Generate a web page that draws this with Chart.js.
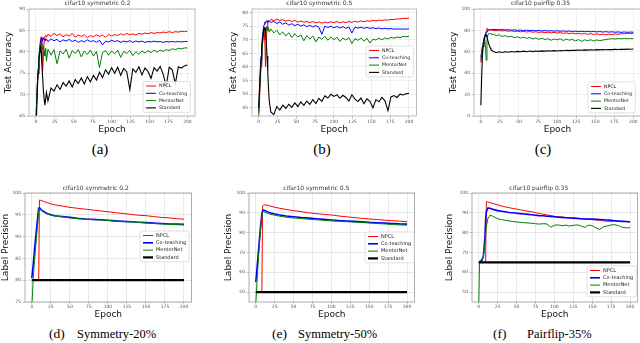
<!DOCTYPE html>
<html>
<head>
<meta charset="utf-8">
<title>cifar10 - test accuracy / label precision</title>
<script src="https://cdn.jsdelivr.net/npm/chart.js"></script>
<style>
  html, body { margin: 0; padding: 0; background: #fff; }
  body { width: 640px; height: 343px; position: relative; overflow: hidden; }
  canvas { position: absolute; }
  .cap { position: absolute; font-family: "Liberation Serif", "Times New Roman", serif; color: #000; white-space: nowrap; line-height: 1; transform: translateY(-50%); }
</style>
</head>
<body>
<canvas id="chart-a" width="200" height="137" style="left:0;top:0"></canvas>
<canvas id="chart-b" width="200" height="137" style="left:222px;top:0"></canvas>
<canvas id="chart-c" width="202" height="137" style="left:440px;top:0"></canvas>
<canvas id="chart-d" width="200" height="140" style="left:0;top:180px"></canvas>
<canvas id="chart-e" width="200" height="140" style="left:218px;top:180px"></canvas>
<canvas id="chart-f" width="200" height="140" style="left:440px;top:180px"></canvas>

<div class="cap" style="left:100px;top:149px;font-size:15px;transform:translate(-50%,-50%)">(a)</div>
<div class="cap" style="left:322px;top:149px;font-size:15px;transform:translate(-50%,-50%)">(b)</div>
<div class="cap" style="left:543px;top:149px;font-size:15px;transform:translate(-50%,-50%)">(c)</div>
<div class="cap" style="left:49px;top:334px;font-size:13.5px">(d)</div>
<div class="cap" style="left:77px;top:334px;font-size:12.5px">Symmetry-20%</div>
<div class="cap" style="left:272px;top:334px;font-size:13.5px">(e)</div>
<div class="cap" style="left:298px;top:334px;font-size:12.5px">Symmetry-50%</div>
<div class="cap" style="left:493px;top:334px;font-size:13.5px">(f)</div>
<div class="cap" style="left:527px;top:334px;font-size:12.5px">Pairflip-35%</div>

<script>
// ---- values ----
const SERIES_NAMES = ['NPCL', 'Co-teaching', 'MentorNet', 'Standard'];
const SERIES_COLORS = ['#ff0000', '#0000ff', '#008000', '#000000'];

const X_TICKS = [0, 25, 50, 75, 100, 125, 150, 175, 200];
const Y_TICKS_A = [65, 70, 75, 80, 85, 90];
const Y_TICKS_B = [45, 50, 55, 60, 65, 70, 75, 80];
const Y_TICKS_C = [0, 20, 40, 60, 80, 100];
const Y_TICKS_D = [75, 80, 85, 90, 95, 100];
const Y_TICKS_E = [50, 60, 70, 80, 90, 100];
const Y_TICKS_F = [50, 60, 70, 80, 90, 100];

// top row (test accuracy)
const EPOCHS_TOP = [0, 1, 2, 3, 4, 5, 6, 7, 8, 9, 10, 11, 12, 13, 14,
  16, 20, 24, 28, 32, 36, 40, 44, 48, 52, 56, 60, 64, 68, 72, 76, 80, 84, 88, 92, 96, 100,
  104, 108, 112, 116, 120, 124, 128, 132, 136, 140, 144, 148, 152, 156, 160, 164, 168, 172,
  176, 180, 184, 188, 192, 196, 200];

const A_NPCL = [62, 68, 72, 75, 78, 80.5, 82.5, 83.5, 80, 75.5, 79, 82.5, 83.6, 83.9, 83.4,
  84.1, 83.6, 84.3, 83.8, 84.2, 83.5, 84.0, 83.7, 84.3, 83.4, 83.9, 83.6, 84.0, 83.3, 83.8, 83.5,
  84.0, 83.6, 83.9, 83.4, 84.1, 83.7, 84.0, 83.8, 84.2, 83.9, 84.3, 84.0, 84.2, 83.9, 84.3, 84.1,
  84.4, 84.2, 84.5, 84.3, 84.5, 84.4, 84.6, 84.5, 84.7, 84.5, 84.7, 84.6, 84.8, 84.7, 84.8];
const A_COTEACHING = [62, 68, 72.5, 76, 78.5, 80.5, 82, 83, 83.2, 82.5, 83.3, 82.8, 83.1, 82.6, 83.0,
  82.4, 83.0, 82.6, 82.9, 82.3, 82.8, 82.5, 82.9, 82.4, 82.7, 82.2, 82.6, 82.3, 82.8, 82.4, 82.6,
  82.2, 82.7, 81.6, 82.5, 82.3, 82.7, 82.4, 82.6, 82.2, 82.5, 82.3, 82.6, 82.2, 82.5, 82.3, 82.5,
  82.2, 82.4, 82.3, 82.5, 82.3, 82.4, 82.2, 82.4, 82.3, 82.4, 82.3, 82.4, 82.3, 82.4, 82.4];
const A_MENTORNET = [60, 68, 72.5, 76, 78.5, 80.5, 81.5, 82, 81.5, 80.5, 81.3, 80.2, 79, 80.8, 77.8,
  80.6, 79.2, 80.5, 77.2, 80.2, 79.5, 80.6, 78.5, 80.3, 79.6, 80.5, 78.8, 80.2, 79.4, 80.4, 79.0,
  80.1, 76.3, 79.8, 80.3, 79.2, 80.2, 79.5, 80.4, 78.7, 80.1, 79.6, 80.3, 79.1, 80.0, 79.4, 80.2,
  79.7, 80.3, 79.8, 80.4, 79.9, 80.4, 80.1, 80.5, 80.3, 80.7, 80.5, 80.8, 80.7, 80.9, 80.9];
const A_STANDARD = [60, 65.5, 71, 75, 78, 79.5, 81, 80, 77, 74, 71, 69, 67.5, 69, 70.5,
  68.5, 71.5, 70.8, 72.3, 71.2, 72.8, 72.0, 73.2, 71.8, 73.5, 72.6, 73.9, 72.5, 74.2, 73.0, 74.5,
  73.4, 75.2, 74.0, 75.8, 74.8, 76.3, 75.0, 76.4, 74.5, 76.1, 75.3, 71.2, 76.0, 75.2, 76.5, 74.6,
  76.2, 75.4, 73.8, 76.3, 75.5, 76.6, 74.8, 72.0, 76.4, 75.8, 72.5, 76.5, 76.2, 76.7, 76.9];

const B_NPCL = [42, 48, 54, 60, 65, 69, 72, 74.5, 70, 60, 70, 75, 76.5, 77, 76.6,
  77.5, 77.0, 77.6, 77.1, 77.4, 76.8, 77.2, 76.7, 77.1, 76.5, 76.9, 76.4, 76.8, 76.3, 76.7, 76.2,
  76.6, 76.1, 76.5, 76.2, 76.6, 76.3, 76.7, 76.2, 76.6, 76.3, 76.7, 76.4, 76.8, 76.5, 76.9, 76.6,
  77.0, 76.8, 77.1, 76.9, 77.2, 77.1, 77.3, 77.2, 77.5, 77.4, 77.7, 77.6, 77.9, 77.8, 78.0];
const B_COTEACHING = [44, 52, 58, 64, 68, 71.5, 74, 75.5, 76.5, 76, 77, 76.5, 77.1, 76.4, 76.9,
  76.3, 76.8, 76.0, 76.5, 75.7, 76.2, 75.4, 75.9, 75.2, 75.7, 75.0, 75.5, 74.8, 75.3, 74.7, 75.2,
  74.6, 72.0, 75.0, 74.5, 75.0, 74.4, 74.9, 74.3, 74.8, 74.2, 74.7, 72.5, 74.6, 74.3, 74.6, 74.2,
  74.5, 74.2, 74.4, 74.1, 74.3, 74.0, 74.2, 74.0, 74.1, 73.9, 74.0, 73.9, 74.0, 73.9, 74.0];
const B_MENTORNET = [43, 50, 56, 61, 65, 68.5, 71, 72.5, 73.5, 74.5, 73.5, 74.8, 73.2, 74.5, 72.8,
  74.0, 72.5, 73.6, 71.8, 72.9, 71.4, 72.6, 70.8, 72.2, 71.0, 71.8, 69.6, 71.5, 70.3, 71.4, 69.2,
  71.0, 70.2, 71.3, 69.8, 71.0, 70.0, 70.9, 69.4, 70.6, 69.9, 70.8, 68.6, 70.4, 69.8, 70.6, 69.5,
  70.5, 68.8, 70.2, 69.9, 70.6, 70.0, 70.7, 70.3, 70.9, 70.6, 71.0, 70.8, 71.2, 71.1, 71.3];
const B_STANDARD = [45, 52, 58, 63, 67, 70, 72.5, 74, 74.5, 73, 69, 64, 58, 52, 47.5,
  43.5, 42.5, 45.5, 44.2, 46.0, 44.8, 46.3, 45.2, 46.8, 45.5, 47.2, 45.9, 47.5, 46.3, 48.0, 46.6,
  48.5, 47.4, 49.4, 48.6, 50.0, 49.2, 49.8, 48.5, 49.6, 48.8, 47.5, 49.8, 48.2, 47.3, 48.6, 46.5,
  48.3, 47.4, 45.0, 48.0, 47.2, 48.8, 47.6, 44.0, 49.0, 49.5, 48.8, 50.0, 49.7, 50.2, 50.3];

const C_NPCL = [50, 56, 62, 67, 71, 74, 77, 79, 82, 79, 81, 80.3, 80.8, 80.2, 80.5,
  80.0, 79.6, 80.1, 79.4, 79.8, 79.2, 79.6, 78.9, 79.3, 78.7, 79.1, 78.5, 78.9, 78.3, 78.7, 78.1,
  78.5, 77.9, 78.3, 77.7, 78.1, 77.5, 77.9, 77.3, 77.7, 77.0, 77.5, 76.8, 77.3, 76.6, 77.1, 76.4,
  76.9, 76.2, 76.8, 76.0, 76.6, 75.8, 76.5, 76.1, 76.7, 76.4, 77.0, 76.8, 77.2, 77.0, 77.4];
const C_COTEACHING = [55, 60, 65, 69, 72, 74.5, 76.5, 78, 79, 79.8, 80.3, 80.6, 80.8, 80.6, 80.9,
  80.7, 80.9, 80.5, 80.8, 80.4, 80.6, 80.2, 80.5, 80.1, 80.3, 79.9, 80.2, 79.8, 80.0, 79.6, 79.9,
  79.5, 79.8, 79.4, 79.7, 79.3, 79.6, 79.2, 79.5, 79.1, 79.4, 79.0, 79.3, 78.9, 79.2, 78.8, 79.1,
  78.7, 79.0, 78.6, 78.9, 78.5, 78.8, 78.4, 78.7, 78.3, 78.6, 78.2, 78.5, 78.2, 78.4, 78.3];
const C_MENTORNET = [52, 58, 63, 67, 70, 72.5, 66, 52, 70, 75, 76.5, 77.5, 76.8, 77.2, 76.0,
  76.6, 75.2, 75.8, 74.3, 75.1, 73.9, 74.6, 73.2, 74.0, 72.8, 73.7, 72.5, 73.4, 72.0, 73.0, 71.6,
  72.7, 71.4, 72.3, 70.8, 72.0, 71.2, 72.1, 70.6, 71.8, 70.9, 71.6, 70.2, 71.4, 69.8, 71.2, 70.4,
  71.3, 70.0, 71.1, 70.5, 71.0, 71.5, 71.9, 72.2, 72.0, 72.3, 72.1, 72.4, 72.2, 72.3, 72.2];
const C_STANDARD = [10, 35, 55, 65, 70, 73, 75, 76, 74, 71, 68, 66, 64, 62.5, 61.5,
  60.5, 59.2, 60.0, 59.4, 60.1, 59.6, 60.3, 59.8, 60.4, 60.0, 60.6, 60.1, 60.7, 60.2, 60.8, 60.4,
  60.9, 60.6, 61.0, 60.7, 61.1, 60.8, 61.2, 61.0, 61.4, 61.1, 61.5, 61.3, 61.7, 61.4, 61.8, 61.6,
  61.9, 61.7, 62.0, 61.8, 62.1, 61.9, 62.2, 62.0, 62.3, 62.1, 62.4, 62.3, 62.5, 62.4, 62.6];

// bottom row (label precision)
const EPOCHS_BOTTOM = [0, 2, 4, 6, 8, 9, 10, 12, 15, 20, 25, 30, 40, 50, 60, 70, 80, 90, 100,
  110, 120, 130, 140, 150, 160, 170, 180, 190, 200];
const EPOCHS_STANDARD = [0, 200];

const D_NPCL = [80, 80, 80, 80, 80, 80, 98.4, 98.3, 98.1, 97.8, 97.5, 97.3, 97.0, 96.7, 96.5,
  96.3, 96.1, 95.9, 95.7, 95.5, 95.3, 95.1, 94.9, 94.8, 94.6, 94.4, 94.3, 94.1, 94.0];
const D_COTEACHING = [80.5, 84, 88, 91.5, 95, 96.5, 96.6, 96.2, 95.8, 95.3, 95.0, 94.8, 94.6, 94.4,
  94.2, 94.05, 93.95, 93.85, 93.75, 93.6, 93.5, 93.4, 93.3, 93.2, 93.1, 93.0, 92.9, 92.85, 92.8];
const D_MENTORNET = [74, 81, 85.5, 89.5, 93.5, 96.3, 96.4, 96.1, 95.7, 95.2, 94.9, 94.7, 94.5, 94.3,
  94.1, 94.0, 93.9, 93.8, 93.7, 93.55, 93.45, 93.35, 93.25, 93.15, 93.0, 92.9, 92.8, 92.75, 92.7];
const D_STANDARD = [80, 80];

const E_NPCL = [50, 50, 50, 50, 50, 93.5, 93.8, 94.0, 93.9, 93.3, 92.8, 92.4, 91.7, 91.1, 90.6,
  90.0, 89.6, 89.2, 88.9, 88.4, 88.0, 87.6, 87.2, 86.9, 86.6, 86.3, 86.0, 85.8, 85.5];
const E_COTEACHING = [55, 64, 73, 82, 89.5, 91, 91.4, 91.2, 90.6, 89.9, 89.4, 89.0, 88.4, 88.0, 87.6,
  87.3, 87.0, 86.7, 86.4, 86.1, 85.9, 85.7, 85.5, 85.2, 85.0, 84.8, 84.6, 84.4, 84.3];
const E_MENTORNET = [44, 58, 70, 80, 88.5, 90.2, 90.6, 90.3, 89.8, 89.2, 88.8, 88.4, 87.8, 87.4, 87.1,
  86.8, 86.5, 86.2, 85.9, 85.7, 85.5, 85.3, 85.1, 84.9, 84.6, 84.4, 84.1, 83.9, 83.8];
const E_STANDARD = [50, 50];

const EPOCHS_F = [0, 1, 2, 4, 6, 8, 9, 10, 12, 15, 20, 25, 30, 35, 40, 45, 50, 55, 60, 65, 70, 75,
  80, 85, 90, 95, 100, 105, 110, 115, 120, 125, 130, 135, 140, 145, 150, 155, 160, 165, 170, 175,
  180, 185, 190, 195, 200];
const F_NPCL = [65, 65, 65, 65, 65, 65, 65, 95.7, 95.5, 95.1,
  94.6, 94.0, 93.5, 93.0, 92.6, 92.2, 91.9, 91.5, 91.2, 90.8, 90.5, 90.1, 89.7, 89.3, 89.0, 88.6,
  88.2, 88.0, 87.8, 87.6, 87.5, 87.3, 87.1, 87.0, 86.9, 86.7, 86.6, 86.4, 86.2, 85.9, 85.7, 85.8,
  85.9, 85.8, 85.7, 85.5, 85.4];
const F_COTEACHING = [65, 65, 65.5, 66, 68, 77, 86, 90.5, 92.4, 92.3,
  91.6, 91.1, 90.8, 90.5, 90.2, 90.0, 89.8, 89.6, 89.4, 89.2, 89.0, 88.8, 88.6, 88.5, 88.3, 88.2,
  88.0, 87.8, 87.7, 87.5, 87.4, 87.3, 87.2, 87.0, 86.9, 86.9, 86.8, 86.7, 86.6, 86.5, 86.4, 86.2,
  86.0, 85.8, 85.7, 85.6, 85.5];
const F_MENTORNET = [45, 65, 66, 66.5, 68, 74, 79, 83, 87, 88.9,
  88.0, 87.0, 86.6, 86.2, 85.9, 85.6, 85.4, 85.2, 85.0, 84.9, 84.7, 84.5, 84.3, 84.5, 84.4, 82.8,
  83.7, 83.9, 83.5, 83.8, 83.3, 83.7, 83.9, 83.4, 82.6, 83.8, 83.5, 82.4, 81.6, 83.0, 83.4, 83.9,
  84.0, 83.5, 82.6, 82.4, 82.5];
const F_STANDARD = [65, 65];

// ---- drawing ----
const FONT = '"DejaVu Sans", sans-serif';

// box around the plot area + matplotlib-like legend inside it
const frameLegend = {
  id: 'frameLegend',
  afterDatasetsDraw(chart, args, opts) {
    const { ctx, chartArea } = chart;
    ctx.save();
    ctx.strokeStyle = opts.frameColor;
    ctx.lineWidth = 0.8;
    ctx.strokeRect(chartArea.left, chartArea.top, chartArea.width, chartArea.height);

    ctx.font = opts.fontSize + 'px ' + FONT;
    const sets = chart.data.datasets;
    const textW = Math.max(...sets.map(d => ctx.measureText(d.label).width));
    const rowH = 7.3;
    const bw = 16 + textW + 3;
    const bh = rowH * sets.length + 1.6;
    ctx.fillStyle = 'rgba(255,255,255,0.85)';
    ctx.strokeStyle = '#cccccc';
    ctx.lineWidth = 0.6;
    ctx.beginPath();
    if (ctx.roundRect) ctx.roundRect(opts.x, opts.y, bw, bh, 1.5);
    else ctx.rect(opts.x, opts.y, bw, bh);
    ctx.fill();
    ctx.stroke();

    sets.forEach((d, i) => {
      const y = opts.y + 4.5 + i * rowH;
      ctx.strokeStyle = d.borderColor;
      ctx.lineWidth = Math.max(d.borderWidth, 1);
      ctx.beginPath();
      ctx.moveTo(opts.x + 3, y);
      ctx.lineTo(opts.x + 13, y);
      ctx.stroke();
      ctx.fillStyle = '#222';
      ctx.textBaseline = 'middle';
      ctx.fillText(d.label, opts.x + 16, y);
    });
    ctx.restore();
  }
};

const TOP_WIDTHS = [1, 1, 1, 1.1];
const BOTTOM_WIDTHS = [1, 1.6, 1, 2.2];

const panels = [
  { id: 'chart-a', title: 'cifar10 symmetric 0.2', yTitle: 'Test Accuracy', yMin: 65, yMax: 90, yTicks: Y_TICKS_A,
    series: [[EPOCHS_TOP, A_NPCL], [EPOCHS_TOP, A_COTEACHING], [EPOCHS_TOP, A_MENTORNET], [EPOCHS_TOP, A_STANDARD]],
    widths: TOP_WIDTHS, top: true, yAxisW: 29, padRight: 5, yTitlePad: 3.5, legend: { x: 143, y: 81.5 } },
  { id: 'chart-b', title: 'cifar10 symmetric 0.5', yTitle: 'Test Accuracy', yMin: 42, yMax: 81.3, yTicks: Y_TICKS_B,
    series: [[EPOCHS_TOP, B_NPCL], [EPOCHS_TOP, B_COTEACHING], [EPOCHS_TOP, B_MENTORNET], [EPOCHS_TOP, B_STANDARD]],
    widths: TOP_WIDTHS, top: true, yAxisW: 30, padRight: 5.5, yTitlePad: 6.6, legend: { x: 144, y: 46 } },
  { id: 'chart-c', title: 'cifar10 pairflip 0.35', yTitle: 'Test Accuracy', yMin: 0, yMax: 100, yTicks: Y_TICKS_C,
    series: [[EPOCHS_TOP, C_NPCL], [EPOCHS_TOP, C_COTEACHING], [EPOCHS_TOP, C_MENTORNET], [EPOCHS_TOP, C_STANDARD]],
    widths: TOP_WIDTHS, top: true, yAxisW: 34, padRight: 1, yTitlePad: 8.1, legend: { x: 148, y: 82 } },
  { id: 'chart-d', title: 'cifar10 symmetric 0.2', yTitle: 'Label Precision', yMin: 75, yMax: 100, yTicks: Y_TICKS_D,
    series: [[EPOCHS_BOTTOM, D_NPCL], [EPOCHS_BOTTOM, D_COTEACHING], [EPOCHS_BOTTOM, D_MENTORNET], [EPOCHS_STANDARD, D_STANDARD]],
    widths: BOTTOM_WIDTHS, top: false, yAxisW: 25, padRight: 8.4, yTitlePad: 0, legend: { x: 140, y: 51 } },
  { id: 'chart-e', title: 'cifar10 symmetric 0.5', yTitle: 'Label Precision', yMin: 45, yMax: 100, yTicks: Y_TICKS_E,
    series: [[EPOCHS_BOTTOM, E_NPCL], [EPOCHS_BOTTOM, E_COTEACHING], [EPOCHS_BOTTOM, E_MENTORNET], [EPOCHS_STANDARD, E_STANDARD]],
    widths: BOTTOM_WIDTHS, top: false, yAxisW: 31, padRight: 3.4, yTitlePad: 5.1, legend: { x: 147, y: 52 } },
  { id: 'chart-f', title: 'cifar10 pairflip 0.35', yTitle: 'Label Precision', yMin: 45, yMax: 100, yTicks: Y_TICKS_F,
    series: [[EPOCHS_F, F_NPCL], [EPOCHS_F, F_COTEACHING], [EPOCHS_F, F_MENTORNET], [EPOCHS_STANDARD, F_STANDARD]],
    widths: BOTTOM_WIDTHS, top: false, yAxisW: 32, padRight: 2.4, yTitlePad: 4.6, legend: { x: 147, y: 86 } }
];

function makePanel(p) {
  const datasets = p.series.map(([epochs, values], i) => ({
    label: SERIES_NAMES[i],
    data: epochs.map((e, k) => ({ x: e, y: values[k] })),
    borderColor: SERIES_COLORS[i],
    borderWidth: p.widths[i],
    pointRadius: 0,
    tension: 0,
    fill: false,
    order: 4 - i // Standard drawn last (on top)
  }));

  const gridColor = p.top ? '#e4e4e4' : '#dadada';
  const xAxisH = p.top ? 21 : 18;

  new Chart(document.getElementById(p.id), {
    type: 'line',
    data: { datasets },
    plugins: [frameLegend],
    options: {
      responsive: false,
      animation: false,
      events: [],
      layout: { padding: { top: p.top ? 0 : 4.5, right: p.padRight, left: 0, bottom: 0 } },
      scales: {
        x: {
          type: 'linear',
          min: -9,
          max: 210,
          afterBuildTicks: s => { s.ticks = X_TICKS.map(v => ({ value: v })); },
          afterFit: s => { s.height = xAxisH; },
          ticks: { font: { family: FONT, size: 4.5 }, color: '#555', padding: p.top ? 1 : 0.5, maxRotation: 0, autoSkip: false },
          grid: { color: gridColor, lineWidth: 0.6, tickLength: p.top ? 2.5 : 2, tickColor: '#999' },
          border: { display: false },
          title: { display: true, text: 'Epoch', color: '#111',
                   font: { family: FONT, size: 9, lineHeight: 1.2 },
                   padding: { top: 0, bottom: p.top ? 2.3 : 0 } }
        },
        y: {
          type: 'linear',
          min: p.yMin,
          max: p.yMax,
          afterBuildTicks: s => { s.ticks = p.yTicks.map(v => ({ value: v })); },
          afterFit: s => { s.width = p.yAxisW; },
          ticks: { font: { family: FONT, size: 4.5 }, color: '#555', padding: 1.5, autoSkip: false },
          grid: { color: gridColor, lineWidth: 0.6, tickLength: 2.5, tickColor: '#999' },
          border: { display: false },
          title: { display: true, text: p.yTitle, color: '#111',
                   font: { family: FONT, size: 9, lineHeight: 1.2 },
                   padding: { top: p.yTitlePad, bottom: 0 } }
        }
      },
      plugins: {
        legend: { display: false },
        tooltip: { enabled: false },
        title: {
          display: true,
          text: p.title,
          color: '#333',
          font: { family: FONT, size: 6, weight: 'normal', lineHeight: '7px' },
          padding: { top: 0, bottom: p.top ? 2 : 1.5 }
        },
        frameLegend: {
          x: p.legend.x,
          y: p.legend.y,
          fontSize: p.top ? 4.7 : 5,
          frameColor: p.top ? '#aaaaaa' : '#999999'
        }
      }
    }
  });
}

panels.forEach(makePanel);
</script>
</body>
</html>
